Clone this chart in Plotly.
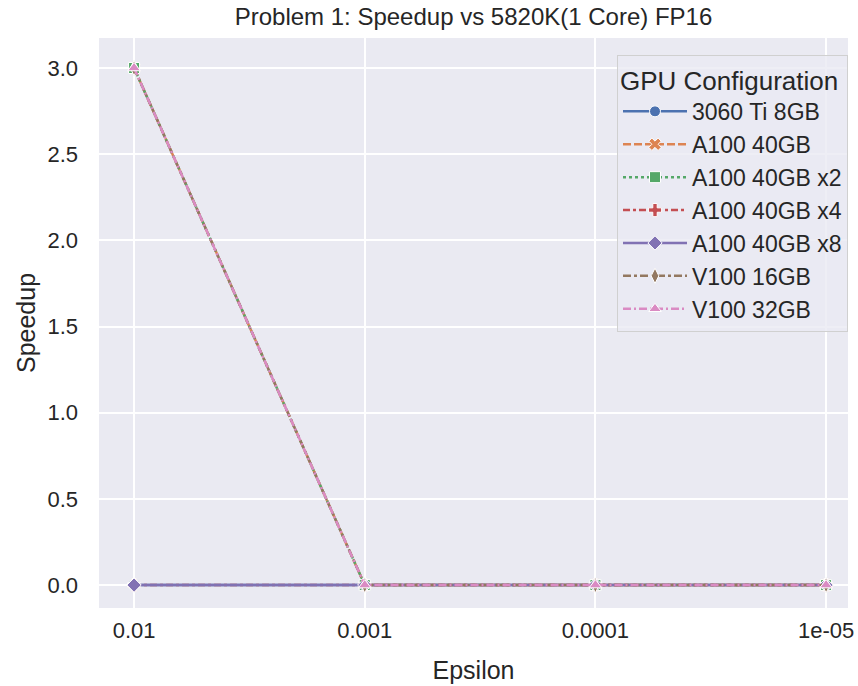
"""Speedup vs epsilon line chart, seaborn darkgrid look."""

import plotly.graph_objects as go

EPSILON = ["0.01", "0.001", "0.0001", "1e-05"]

GPUS = ["3060 Ti 8GB", "A100 40GB", "A100 40GB x2", "A100 40GB x4",
        "A100 40GB x8", "V100 16GB", "V100 32GB"]

SPEEDUP = {
    "3060 Ti 8GB": [0.0, 0.0, 0.0, 0.0],
    "A100 40GB": [3.0, 0.0, 0.0, 0.0],
    "A100 40GB x2": [3.0, 0.0, 0.0, 0.0],
    "A100 40GB x4": [0.0, 0.0, 0.0, 0.0],
    "A100 40GB x8": [0.0, 0.0, 0.0, 0.0],
    "V100 16GB": [3.0, 0.0, 0.0, 0.0],
    "V100 32GB": [3.0, 0.0, 0.0, 0.0],
}

COLORS = ["#4C72B0", "#DD8452", "#55A868", "#C44E52", "#8172B3", "#937860", "#DA8BC3"]
DASHES = ["solid", "8px,3px", "3px,3px", "7px,3px,3px,3px", "solid", "8px,3px,3px,3px", "8px,3px,2px,3px"]
SYMBOLS = ["circle", "x", "square", "cross", "diamond", "diamond-tall", "triangle-up"]

fig = go.Figure()
for gpu, color, dash, sym in zip(GPUS, COLORS, DASHES, SYMBOLS):
    fig.add_trace(go.Scatter(
        x=EPSILON, y=SPEEDUP[gpu], name=gpu, mode="lines+markers", legendgroup=gpu,
        line=dict(color=color, width=2.5, dash=dash),
        marker=dict(symbol=sym, size=11, color=color, line=dict(color="white", width=1)),
    ))

fig.update_layout(
    width=858, height=686,
    paper_bgcolor="white", plot_bgcolor="#EAEAF2",
    font=dict(family="Liberation Sans, Arial, sans-serif", size=22, color="#262626"),
    title=dict(text="Problem 1: Speedup vs 5820K(1 Core) FP16", xref="paper", x=0.5,
               xanchor="center", y=1 - 8 / 686, yanchor="top", font=dict(size=24)),
    margin=dict(l=99, r=10, t=38, b=78, autoexpand=False),
    xaxis=dict(type="category", range=[-0.152, 3.095], showgrid=True, gridcolor="white",
               gridwidth=1.5, zeroline=False, ticks="", tickfont=dict(size=22),
               ticklabelstandoff=7, automargin=False,
               title=dict(text="Epsilon", font=dict(size=25), standoff=19)),
    yaxis=dict(range=[-0.133, 3.174], tickvals=[0, 0.5, 1, 1.5, 2, 2.5, 3], tickformat=".1f",
               showgrid=True, gridcolor="white", gridwidth=1.5, zeroline=False, ticks="",
               tickfont=dict(size=22), ticklabelstandoff=20, automargin=False,
               title=dict(text="Speedup", font=dict(size=25), standoff=4)),
    legend=dict(x=1.0, y=0.97, xanchor="right", yanchor="top", tracegroupgap=0,
                bgcolor="rgba(234,234,242,0.8)", bordercolor="#D0D0D0", borderwidth=1,
                itemwidth=64,
                title=dict(text="GPU Configuration", font=dict(size=26)),
                font=dict(size=23)),
)

# drop the default body margin so the figure fills the window exactly
fig.write_html("out.html", config={"displayModeBar": False},
               post_script="document.body.style.margin='0';")
